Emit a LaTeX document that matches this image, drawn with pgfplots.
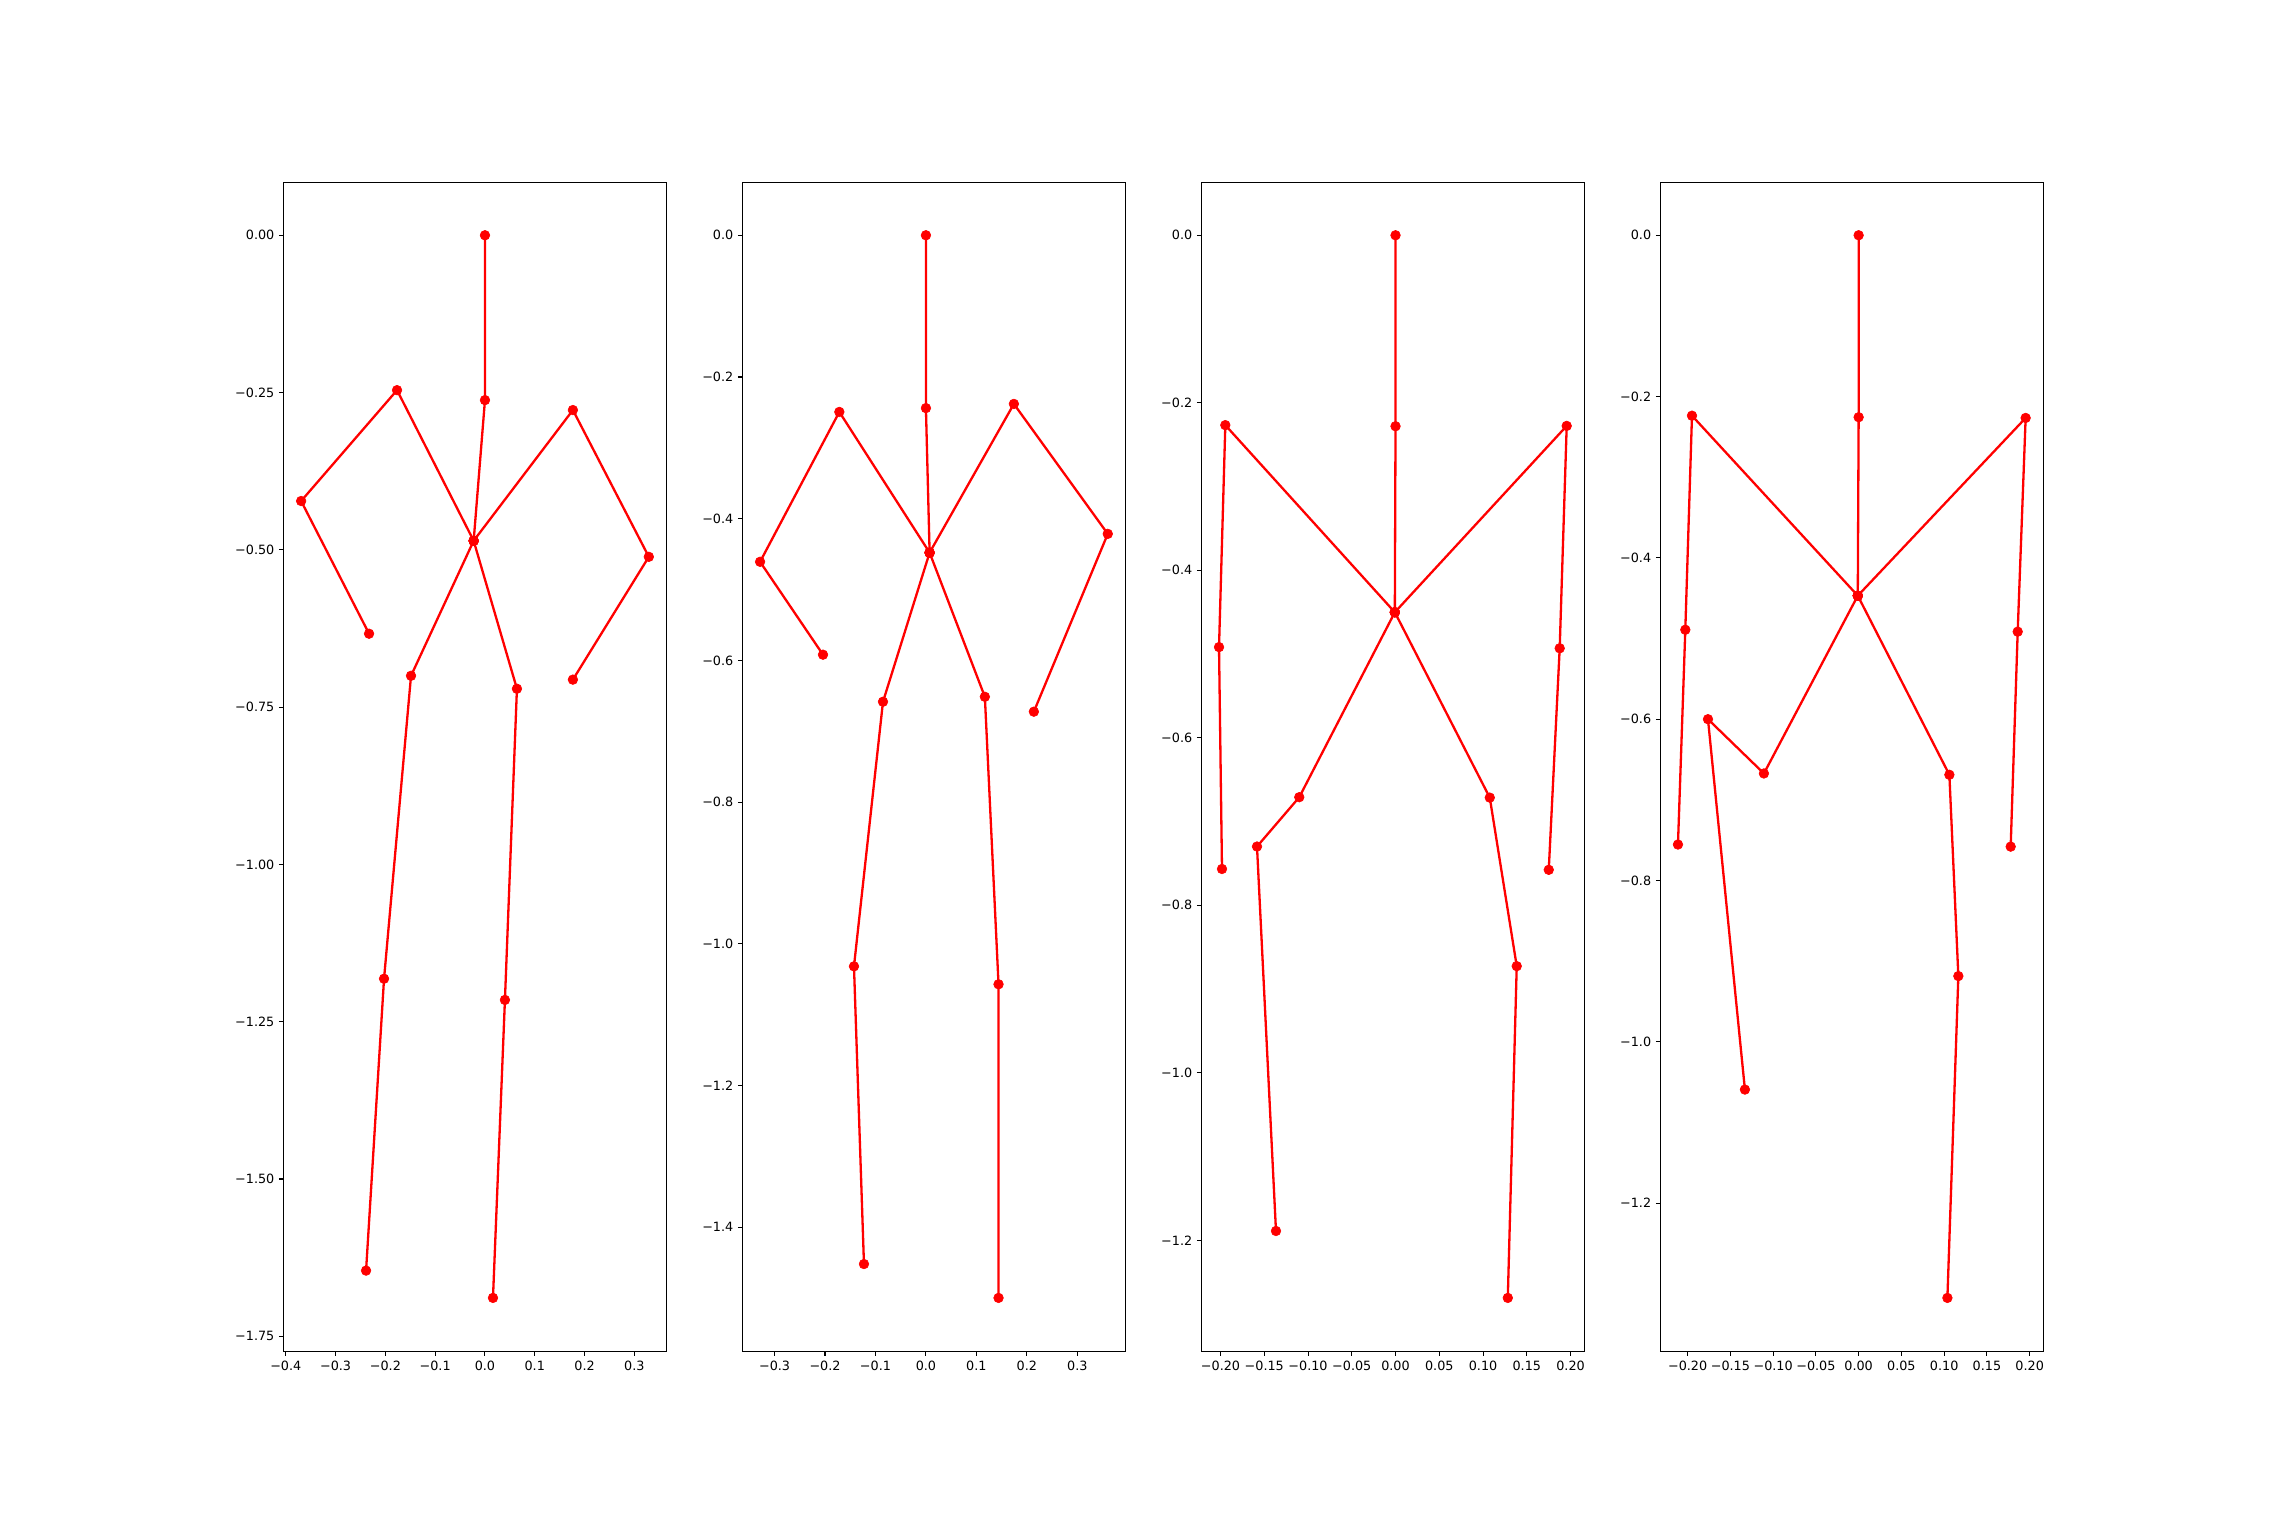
\documentclass[border=0pt]{standalone}
\usepackage{pgfplots}
\pgfplotsset{compat=1.18}
\usepackage{fontspec}
\setmainfont{DejaVu Sans}
\pgfplotsset{
  skel/.style={
    scale only axis, width=2.5272in, height=7.724in, anchor=south west,
    enlargelimits=0.05,
    axis line style={line width=0.5pt, black},
    tick align=outside, xtick pos=bottom, ytick pos=left,
    major tick length=2.3pt,
    every tick/.style={line width=0.5pt, black},
    tick label style={font=\fontsize{6.1}{7.3}\selectfont, black},
    xticklabel style={inner sep=2pt, yshift=-0.5pt},
    yticklabel style={inner sep=2pt},
    minor tick num=0,
  },
  limb/.style={red, line width=1.1pt, mark=*, mark size=2.3pt, mark options={red, fill=red, line width=0.3pt}},
}
\begin{document}
\begin{tikzpicture}
\path[use as bounding box] (0,0) rectangle (15in,10.031in);
% Panel 1
\begin{axis}[skel, at={(1.875in,1.1034in)},
  xtick={-0.4,-0.3,-0.2,-0.1,0,0.1,0.2,0.3},
  xticklabels={−0.4,−0.3,−0.2,−0.1,0.0,0.1,0.2,0.3},
  ytick={0,-0.25,-0.5,-0.75,-1,-1.25,-1.5,-1.75},
  yticklabels={0.00,−0.25,−0.50,−0.75,−1.00,−1.25,−1.50,−1.75}]
\addplot[limb] coordinates {(0,0) (0,-0.262) (-0.0227,-0.4856)};
\addplot[limb] coordinates {(-0.0227,-0.4856) (-0.1766,-0.2462) (-0.3692,-0.4224) (-0.2328,-0.6333)};
\addplot[limb] coordinates {(-0.0227,-0.4856) (0.1766,-0.2778) (0.3291,-0.5111) (0.1766,-0.7063)};
\addplot[limb] coordinates {(-0.0227,-0.4856) (-0.1485,-0.7002) (-0.2027,-1.1817) (-0.2388,-1.6456)};
\addplot[limb] coordinates {(-0.0227,-0.4856) (0.0642,-0.7208) (0.0401,-1.2154) (0.0161,-1.6890)};
\end{axis}
% Panel 2
\begin{axis}[skel, at={(4.90763in,1.1034in)},
  xtick={-0.3,-0.2,-0.1,0,0.1,0.2,0.3},
  xticklabels={−0.3,−0.2,−0.1,0.0,0.1,0.2,0.3},
  ytick={0,-0.2,-0.4,-0.6,-0.8,-1,-1.2,-1.4},
  yticklabels={0.0,−0.2,−0.4,−0.6,−0.8,−1.0,−1.2,−1.4}]
\addplot[limb] coordinates {(0,0) (0,-0.2439) (0.0073,-0.4479)};
\addplot[limb] coordinates {(0.0073,-0.4479) (-0.1716,-0.2493) (-0.3287,-0.4608) (-0.2040,-0.5919)};
\addplot[limb] coordinates {(0.0073,-0.4479) (0.1743,-0.2380) (0.3604,-0.4214) (0.2139,-0.6723)};
\addplot[limb] coordinates {(0.0073,-0.4479) (-0.0851,-0.6583) (-0.1426,-1.0317) (-0.1228,-1.4518)};
\addplot[limb] coordinates {(0.0073,-0.4479) (0.1168,-0.6513) (0.1439,-1.0570) (0.1439,-1.4996)};
\end{axis}
% Panel 3
\begin{axis}[skel, at={(7.94026in,1.1034in)},
  xtick={-0.2,-0.15,-0.1,-0.05,0,0.05,0.1,0.15,0.2},
  xticklabels={−0.20,−0.15,−0.10,−0.05,0.00,0.05,0.10,0.15,0.20},
  ytick={0,-0.2,-0.4,-0.6,-0.8,-1,-1.2},
  yticklabels={0.0,−0.2,−0.4,−0.6,−0.8,−1.0,−1.2}]
\addplot[limb] coordinates {(0,0) (0,-0.2280) (-0.0008,-0.4501)};
\addplot[limb] coordinates {(-0.0008,-0.4501) (-0.1945,-0.2267) (-0.2017,-0.4917) (-0.1983,-0.7566)};
\addplot[limb] coordinates {(-0.0008,-0.4501) (0.1956,-0.2276) (0.1876,-0.4931) (0.1751,-0.7576)};
\addplot[limb] coordinates {(-0.0008,-0.4501) (-0.1100,-0.6709) (-0.1583,-0.7298) (-0.1366,-1.1888)};
\addplot[limb] coordinates {(-0.0008,-0.4501) (0.1077,-0.6714) (0.1385,-0.8726) (0.1283,-1.2687)};
\end{axis}
% Panel 4
\begin{axis}[skel, at={(10.97289in,1.1034in)},
  xtick={-0.2,-0.15,-0.1,-0.05,0,0.05,0.1,0.15,0.2},
  xticklabels={−0.20,−0.15,−0.10,−0.05,0.00,0.05,0.10,0.15,0.20},
  ytick={0,-0.2,-0.4,-0.6,-0.8,-1,-1.2},
  yticklabels={0.0,−0.2,−0.4,−0.6,−0.8,−1.0,−1.2}]
\addplot[limb] coordinates {(0,0) (0,-0.2256) (-0.0010,-0.4469)};
\addplot[limb] coordinates {(-0.0010,-0.4469) (-0.1949,-0.2237) (-0.2027,-0.4891) (-0.2113,-0.7554)};
\addplot[limb] coordinates {(-0.0010,-0.4469) (0.1953,-0.2265) (0.1860,-0.4915) (0.1778,-0.7580)};
\addplot[limb] coordinates {(-0.0010,-0.4469) (-0.1108,-0.6673) (-0.1762,-0.6000) (-0.1330,-1.0592)};
\addplot[limb] coordinates {(-0.0010,-0.4469) (0.1061,-0.6689) (0.1166,-0.9185) (0.1038,-1.3175)};
\end{axis}
\end{tikzpicture}
\end{document}
